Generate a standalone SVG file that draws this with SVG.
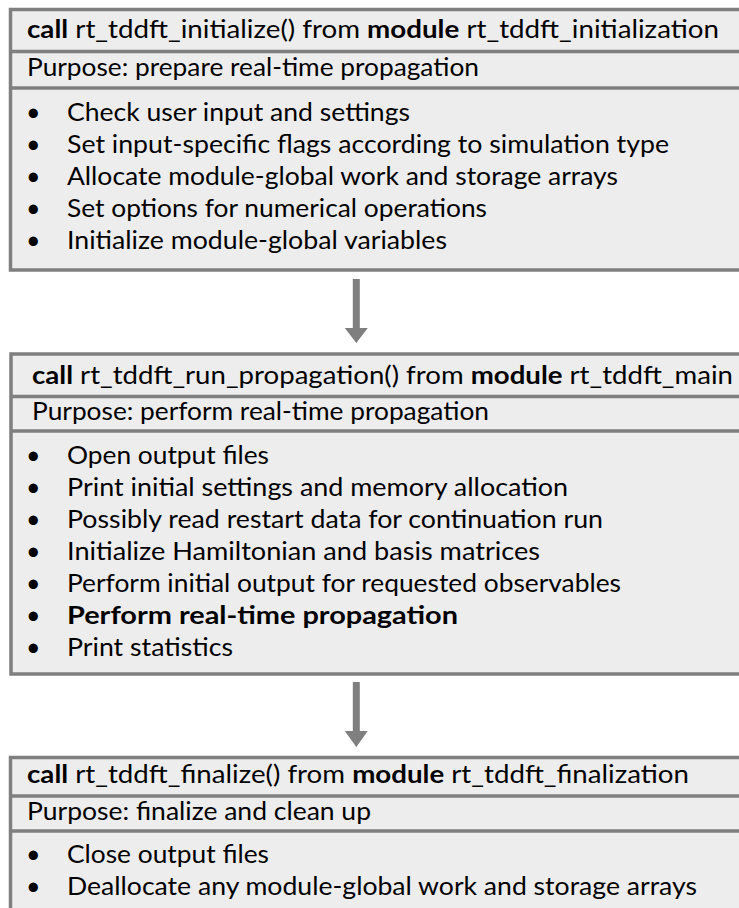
<svg xmlns="http://www.w3.org/2000/svg" width="739" height="908" viewBox="0 0 739 908">
<style>
.box{fill:#ededed;stroke:#7f7f7f;stroke-width:3.5}
.sep{stroke:#7f7f7f;stroke-width:3.5}
text{font-family:Lato,"Open Sans",sans-serif;font-size:25px;fill:#000}
.b{font-weight:bold}
.arrow{fill:#7f7f7f}
</style>
<rect width="739" height="908" fill="#fff"/>
<g id="node1">
<rect class="box" x="10.5" y="9.5" width="740" height="260.5"/>
<line class="sep" x1="10.5" y1="51.5" x2="750" y2="51.5"/>
<line class="sep" x1="10.5" y1="88" x2="750" y2="88"/>
<text x="27" y="38" textLength="692" lengthAdjust="spacingAndGlyphs"><tspan class="b">call</tspan> rt_tddft_initialize() from <tspan class="b">module</tspan> rt_tddft_initialization</text>
<text x="27" y="76" textLength="452" lengthAdjust="spacingAndGlyphs">Purpose: prepare real-time propagation</text>
<text x="26" y="121">•</text><text x="67" y="121" textLength="343" lengthAdjust="spacingAndGlyphs">Check user input and settings</text>
<text x="26" y="153">•</text><text x="67" y="153" textLength="602" lengthAdjust="spacingAndGlyphs">Set input-specific flags according to simulation type</text>
<text x="26" y="185">•</text><text x="67" y="185" textLength="551" lengthAdjust="spacingAndGlyphs">Allocate module-global work and storage arrays</text>
<text x="26" y="217">•</text><text x="67" y="217" textLength="420" lengthAdjust="spacingAndGlyphs">Set options for numerical operations</text>
<text x="26" y="249">•</text><text x="67" y="249" textLength="380" lengthAdjust="spacingAndGlyphs">Initialize module-global variables</text>
</g>
<g id="node2">
<rect class="box" x="11" y="354" width="740" height="320"/>
<line class="sep" x1="11" y1="396.5" x2="751" y2="396.5"/>
<line class="sep" x1="11" y1="431" x2="751" y2="431"/>
<text x="32" y="384" textLength="701" lengthAdjust="spacingAndGlyphs"><tspan class="b">call</tspan> rt_tddft_run_propagation() from <tspan class="b">module</tspan> rt_tddft_main</text>
<text x="32" y="420" textLength="457" lengthAdjust="spacingAndGlyphs">Purpose: perform real-time propagation</text>
<text x="26" y="464">•</text><text x="67" y="464" textLength="202" lengthAdjust="spacingAndGlyphs">Open output files</text>
<text x="26" y="496">•</text><text x="67" y="496" textLength="501" lengthAdjust="spacingAndGlyphs">Print initial settings and memory allocation</text>
<text x="26" y="528">•</text><text x="67" y="528" textLength="536" lengthAdjust="spacingAndGlyphs">Possibly read restart data for continuation run</text>
<text x="26" y="560">•</text><text x="67" y="560" textLength="473" lengthAdjust="spacingAndGlyphs">Initialize Hamiltonian and basis matrices</text>
<text x="26" y="592">•</text><text x="67" y="592" textLength="554" lengthAdjust="spacingAndGlyphs">Perform initial output for requested observables</text>
<text x="26" y="624">•</text><text class="b" x="67" y="624" textLength="391" lengthAdjust="spacingAndGlyphs">Perform real-time propagation</text>
<text x="26" y="656">•</text><text x="67" y="656" textLength="166" lengthAdjust="spacingAndGlyphs">Print statistics</text>
</g>
<g id="node3">
<rect class="box" x="10.5" y="757.5" width="740" height="170"/>
<line class="sep" x1="10.5" y1="796" x2="750" y2="796"/>
<line class="sep" x1="10.5" y1="831" x2="750" y2="831"/>
<text x="27" y="783" textLength="662" lengthAdjust="spacingAndGlyphs"><tspan class="b">call</tspan> rt_tddft_finalize() from <tspan class="b">module</tspan> rt_tddft_finalization</text>
<text x="27" y="820" textLength="344" lengthAdjust="spacingAndGlyphs">Purpose: finalize and clean up</text>
<text x="26" y="863">•</text><text x="67" y="863" textLength="202" lengthAdjust="spacingAndGlyphs">Close output files</text>
<text x="26" y="895">•</text><text x="67" y="895" textLength="630" lengthAdjust="spacingAndGlyphs">Deallocate any module-global work and storage arrays</text>
</g>
<g id="connectors">
<path class="arrow" d="M352.8 279 H359.8 V328 H367.8 L356.3 343 L344.8 328 H352.8 Z"/>
<path class="arrow" d="M352.8 682 H359.8 V731 H367.8 L356.3 747 L344.8 731 H352.8 Z"/>
</g>
</svg>
